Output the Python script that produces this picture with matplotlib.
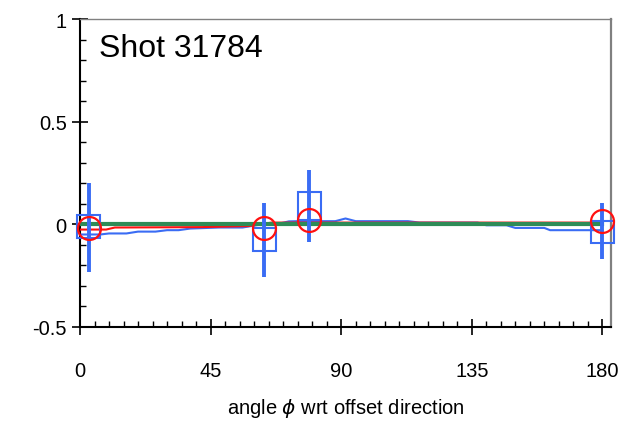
import matplotlib
matplotlib.use("Agg")
import matplotlib.pyplot as plt
from matplotlib.patches import Rectangle
from matplotlib.ticker import MultipleLocator

plt.rcParams['font.family'] = ['Liberation Sans', 'DejaVu Sans']
plt.rcParams['mathtext.fontset'] = 'dejavusans'

# data
blue_x = [0, 7, 10, 16, 20, 26, 30, 34, 38, 42, 48, 56, 62, 68, 72, 75, 88, 91.5, 95, 113, 117, 137, 140, 147, 150, 160, 162, 180]
blue_y = [-0.051, -0.051, -0.046, -0.046, -0.037, -0.037, -0.030, -0.030, -0.022, -0.020, -0.017, -0.017, -0.003, 0.0, 0.013, 0.014, 0.014, 0.027, 0.014, 0.014, 0.007, 0.007, -0.006, -0.006, -0.019, -0.019, -0.030, -0.030]
red_x = [0, 9, 12, 42, 58, 66, 180]
red_y = [-0.027, -0.027, -0.017, -0.015, -0.010, 0.007, 0.007]
green_x = [0, 180]
green_y = [0.0, 0.0]

pt_x = [3, 63.5, 79, 180]
circle_y = [-0.019, -0.017, 0.022, 0.016]
box_lo = [-0.066, -0.131, 0.019, -0.092]
box_hi = [0.043, -0.017, 0.154, 0.016]
err_lo = [-0.233, -0.260, -0.087, -0.173]
err_hi = [0.198, 0.103, 0.266, 0.103]
box_width = 8

xticks = [0, 45, 90, 135, 180]
yticks = [-0.5, 0, 0.5, 1]
ytick_labels = ['-0.5', '0', '0.5', '1']

blue = '#3a6cf4'
red = '#ff1010'
green = '#2e8b57'

fig = plt.figure(figsize=(6.28, 4.27), dpi=100)
ax = fig.add_axes([0.1274, 0.233, 0.9730 - 0.1274, 0.953 - 0.233])

ax.plot(blue_x, blue_y, color=blue, lw=1.5, zorder=2)
ax.plot(red_x, red_y, color=red, lw=1.5, zorder=3)
ax.plot(green_x, green_y, color=green, lw=3.0, zorder=4)

for x, lo, hi in zip(pt_x, box_lo, box_hi):
    ax.add_patch(Rectangle((x - box_width / 2, lo), box_width, hi - lo,
                           fill=False, edgecolor=blue, lw=1.5, zorder=5, clip_on=False))
ax.vlines(pt_x, err_lo, err_hi, color=blue, lw=2.8, zorder=6, clip_on=False)
ax.plot(pt_x, circle_y, 'o', mfc='none', mec=red, mew=1.6, ms=16.5, zorder=7, clip_on=False)

ax.set_xlim(0, 183)
ax.set_ylim(-0.5, 1)
ax.set_xticks(xticks)
ax.set_yticks(yticks)
ax.set_yticklabels(ytick_labels)
ax.xaxis.set_minor_locator(MultipleLocator(5))
ax.yaxis.set_minor_locator(MultipleLocator(0.1))
ax.tick_params(which='major', direction='inout', length=11, width=1.2, labelsize=14.5)
ax.tick_params(which='minor', direction='in', length=4.5, width=1.0)
ax.tick_params(axis='x', which='major', pad=19)
ax.tick_params(axis='y', which='major', pad=4)
ax.tick_params(top=False, right=False, which='both')

for s in ['left', 'bottom']:
    ax.spines[s].set_linewidth(1.5)
    ax.spines[s].set_color('black')
ax.spines['top'].set_color('#808080')
ax.spines['top'].set_linewidth(1.0)
ax.spines['right'].set_color('#808080')
ax.spines['right'].set_linewidth(1.6)

ax.text(0.036, 0.905, 'Shot 31784', transform=ax.transAxes, fontsize=23, va='center', ha='left')
ax.set_xlabel(r'angle $\phi$ wrt offset direction', fontsize=14.5, labelpad=12)

fig.savefig('out.png', dpi=100)
